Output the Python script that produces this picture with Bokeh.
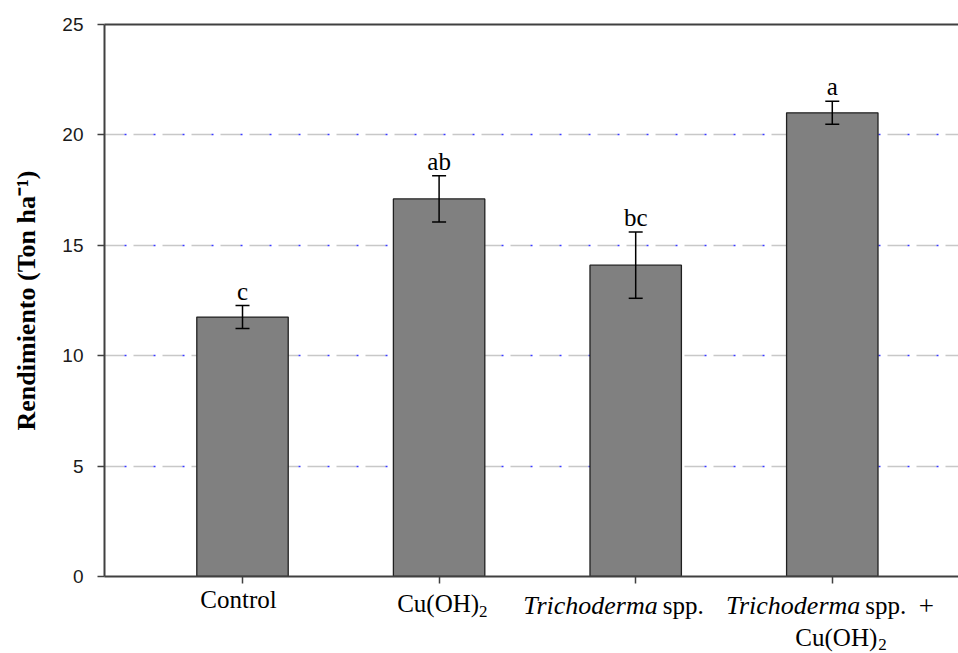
from bokeh.plotting import figure
from bokeh.models import (ColumnDataSource, Whisker, TeeHead, LabelSet,
                          FixedTicker, LinearAxis, Grid, Range1d)
from bokeh.layouts import column
from bokeh.core.properties import value
from bokeh.embed import file_html
from bokeh.resources import INLINE

# ---- data ----
treatments = ["Control", "Cu(OH)2", "Trichoderma spp.", "Trichoderma spp. + Cu(OH)2"]
positions = [1, 2, 3, 4]
rendimiento = [11.75, 17.1, 14.1, 21.0]
error = [0.52, 1.05, 1.5, 0.52]
letters = ["c", "ab", "bc", "a"]
y_ticks = [0, 5, 10, 15, 20, 25]
grid_values = [5, 10, 15, 20]
y_title = "Rendimiento (Ton ha\u207b\u00b9)"

upper = [v + e for v, e in zip(rendimiento, error)]
lower = [v - e for v, e in zip(rendimiento, error)]
src = ColumnDataSource(dict(x=positions, top=rendimiento, upper=upper,
                            lower=lower, letter=letters))

xr = Range1d(0.298, 4.642)
p = figure(width=958, height=588, output_backend="svg", toolbar_location=None,
           x_range=xr, y_range=Range1d(0, 25),
           min_border_left=104, min_border_right=0, min_border_top=24,
           min_border_bottom=12)
p.outline_line_color = None
p.background_fill_color = "white"
p.border_fill_color = "white"
p.xgrid.visible = False
p.ygrid.visible = False

# dashed grid (gray dashes with small blue dots)
g1 = Grid(dimension=1, ticker=FixedTicker(ticks=grid_values),
          grid_line_color="#c8c8c8", grid_line_width=1.5, grid_line_dash="20 9")
g2 = Grid(dimension=1, ticker=FixedTicker(ticks=grid_values),
          grid_line_color="#3a3aff", grid_line_width=1.5, grid_line_dash="0 20 2 7")
p.add_layout(g1)
p.add_layout(g2)

axis_col = "#404040"
# y axis
p.yaxis.ticker = FixedTicker(ticks=y_ticks)
p.yaxis.minor_tick_line_color = None
p.yaxis.major_tick_out = 7
p.yaxis.major_tick_in = 0
p.yaxis.axis_line_color = axis_col
p.yaxis.axis_line_width = 2
p.yaxis.major_tick_line_color = axis_col
p.yaxis.major_tick_line_width = 1.5
p.yaxis.major_label_text_font = "Liberation Sans"
p.yaxis.major_label_text_font_size = "19px"
p.yaxis.major_label_text_color = "#1a1a1a"
p.yaxis.major_label_standoff = 14
p.yaxis.axis_label = y_title
p.yaxis.axis_label_text_font = "Liberation Serif"
p.yaxis.axis_label_text_font_style = "bold"
p.yaxis.axis_label_text_font_size = "26px"
p.yaxis.axis_label_text_color = "black"
p.yaxis.axis_label_standoff = 18

# x axis (ticks only; category labels drawn in the strip below)
p.xaxis.ticker = FixedTicker(ticks=positions)
p.xaxis.minor_tick_line_color = None
p.xaxis.major_tick_out = 7
p.xaxis.major_tick_in = 0
p.xaxis.axis_line_color = axis_col
p.xaxis.axis_line_width = 2
p.xaxis.major_tick_line_color = axis_col
p.xaxis.major_tick_line_width = 1.5
p.xaxis.major_label_text_font_size = "0px"
p.xaxis.major_label_standoff = 0

# top border line
top = LinearAxis(ticker=FixedTicker(ticks=[]), major_tick_out=0, major_tick_in=0,
                 minor_tick_out=0, minor_tick_in=0,
                 major_label_text_font_size="0px",
                 axis_line_color=axis_col, axis_line_width=2)
p.add_layout(top, "above")

# bars
p.vbar(x="x", top="top", width=0.465, source=src, fill_color="#808080",
       line_color="#202020", line_width=1.3)

# error bars
w = Whisker(base="x", upper="upper", lower="lower", source=src,
            line_color="black", line_width=1.5, level="annotation",
            upper_head=TeeHead(size=14, line_color="black", line_width=1.5),
            lower_head=TeeHead(size=14, line_color="black", line_width=1.5))
p.add_layout(w)

# significance letters
p.add_layout(LabelSet(x="x", y="upper", text="letter", source=src,
                      text_align="center", text_baseline="alphabetic",
                      y_offset=6, text_font="Liberation Serif",
                      text_font_size="25px", text_color="black"))

# ---- strip below for the category labels (mixed italic / subscript) ----
q = figure(width=958, height=65, output_backend="svg", toolbar_location=None,
           x_range=xr, y_range=Range1d(0, 1),
           x_axis_location=None, y_axis_location=None,
           min_border_left=104, min_border_right=0, min_border_top=0,
           min_border_bottom=0)
q.outline_line_color = None
q.grid.visible = False
q.background_fill_color = "white"
q.border_fill_color = "white"


def piece(xpos, txt, dx, below, size="25px", style="normal", align="left"):
    q.text(x=[xpos], y=[1], text=[txt], x_offset=dx, y_offset=below,
           text_font=value("Liberation Serif"), text_font_size=value(size),
           text_font_style=value(style), text_align=value(align),
           text_baseline=value("alphabetic"), text_line_height=1.0,
           text_color="black")


piece(positions[0], treatments[0], -4, 11, align="center")

piece(positions[1], "Cu(OH)", 40, 15, align="right")
piece(positions[1], "2", 40, 23, size="17px")

piece(positions[2], "Trichoderma", 22, 17, size="26px", style="italic", align="right")
piece(positions[2], "spp.", 27, 17)

piece(positions[3], "Trichoderma", 28, 17, size="26px", style="italic", align="right")
piece(positions[3], "spp.", 33, 17)
piece(positions[3], "+", 94, 17, size="27px", align="center")
piece(positions[3], "Cu(OH)", 45, 49, align="right")
piece(positions[3], "2", 46, 56, size="17px")

open("out.html", "w").write(file_html(column(p, q), INLINE))
